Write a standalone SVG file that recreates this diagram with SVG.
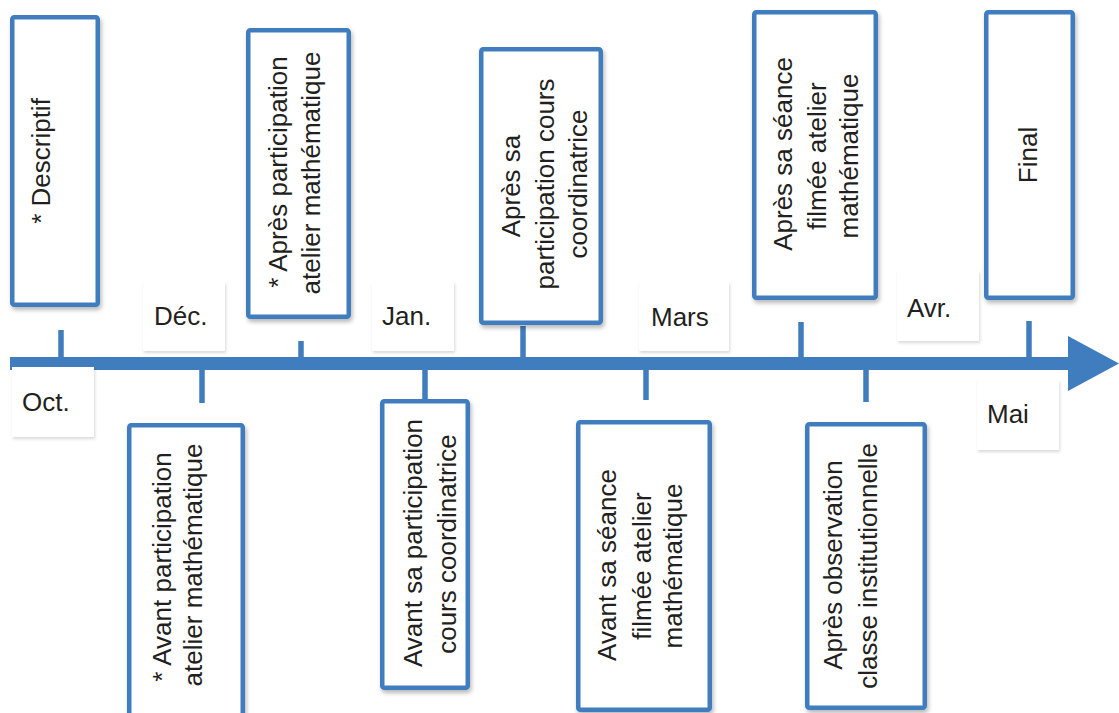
<svg xmlns="http://www.w3.org/2000/svg" width="1119" height="713" viewBox="0 0 1119 713">
<style>
.box{fill:#fff;stroke:#407dbe;stroke-width:4.5;filter:url(#sh)}
.lab{fill:#fff;filter:url(#sh2)}
.t{font-family:"Liberation Sans",Arial,sans-serif;font-size:26px;fill:#231f20}
.v{text-anchor:middle}
.tick{stroke:#407dbe;stroke-width:5.5;fill:none}
</style>
<defs>
<filter id="sh" x="-10%" y="-5%" width="125%" height="115%">
<feDropShadow dx="1.5" dy="3" stdDeviation="2" flood-color="#000" flood-opacity="0.28"/>
</filter>
<filter id="sh2" x="-10%" y="-10%" width="130%" height="130%">
<feDropShadow dx="1" dy="2" stdDeviation="1.5" flood-color="#000" flood-opacity="0.15"/>
</filter>
</defs>
<rect width="1119" height="713" fill="#fff"/>

<g id="connectors">
<rect x="10" y="357" width="1060" height="13" fill="#407dbe"/>
<polygon points="1068,336 1119,363.5 1068,391" fill="#407dbe"/>
<line class="tick" x1="61" y1="330" x2="61" y2="358"/>
<line class="tick" x1="202" y1="369" x2="202" y2="403"/>
<line class="tick" x1="301" y1="341" x2="301" y2="358"/>
<line class="tick" x1="425" y1="369" x2="425" y2="400"/>
<line class="tick" x1="523" y1="326" x2="523" y2="358"/>
<line class="tick" x1="646" y1="369" x2="646" y2="400"/>
<line class="tick" x1="801" y1="322" x2="801" y2="358"/>
<line class="tick" x1="866" y1="369" x2="866" y2="402"/>
<line class="tick" x1="1029" y1="321" x2="1029" y2="358"/>
</g>

<g id="oct"><rect class="lab" x="12" y="367" width="82" height="70"/><text class="t" x="22" y="411">Oct.</text></g>
<g id="dec"><rect class="lab" x="143" y="282" width="82" height="69"/><text class="t" x="154" y="325">Déc.</text></g>
<g id="jan"><rect class="lab" x="372" y="282" width="82" height="69"/><text class="t" x="382" y="325">Jan.</text></g>
<g id="mars"><rect class="lab" x="639" y="282" width="90" height="69"/><text class="t" x="651" y="326">Mars</text></g>
<g id="avr"><rect class="lab" x="897" y="271" width="82" height="70"/><text class="t" x="907" y="317">Avr.</text></g>
<g id="mai"><rect class="lab" x="977" y="380" width="82" height="70"/><text class="t" x="987" y="423">Mai</text></g>

<g id="n-descriptif">
<rect class="box" x="12.25" y="17.25" width="85.5" height="287.5" rx="2"/>
<text class="t v" transform="translate(50,161) rotate(-90)">* Descriptif</text>
</g>
<g id="n-apres-atelier">
<rect class="box" x="248.25" y="30.25" width="100.5" height="286.5" rx="2"/>
<text class="t v" transform="translate(287,172) rotate(-90)">* Après participation</text>
<text class="t v" transform="translate(320,173) rotate(-90)">atelier mathématique</text>
</g>
<g id="n-apres-cours">
<rect class="box" x="481.25" y="49.25" width="119.5" height="273.5" rx="2"/>
<text class="t v" transform="translate(520,186) rotate(-90)">Après sa</text>
<text class="t v" transform="translate(554,184) rotate(-90)">participation cours</text>
<text class="t v" transform="translate(587,184) rotate(-90)">coordinatrice</text>
</g>
<g id="n-apres-seance">
<rect class="box" x="754.25" y="12.25" width="121.5" height="285.5" rx="2"/>
<text class="t v" transform="translate(792,154) rotate(-90)">Après sa séance</text>
<text class="t v" transform="translate(826,156) rotate(-90)">filmée atelier</text>
<text class="t v" transform="translate(858,156) rotate(-90)">mathématique</text>
</g>
<g id="n-final">
<rect class="box" x="986.25" y="12.25" width="86.5" height="285.5" rx="2"/>
<text class="t v" transform="translate(1037,155) rotate(-90)">Final</text>
</g>
<g id="n-avant-atelier">
<rect class="box" x="129.25" y="425.25" width="113.5" height="295" rx="2"/>
<text class="t v" transform="translate(171,567) rotate(-90)">* Avant participation</text>
<text class="t v" transform="translate(202,565) rotate(-90)">atelier mathématique</text>
</g>
<g id="n-avant-cours">
<rect class="box" x="382.25" y="401.25" width="85.5" height="286.5" rx="2"/>
<text class="t v" transform="translate(422,543) rotate(-90)">Avant sa participation</text>
<text class="t v" transform="translate(456,544) rotate(-90)">cours coordinatrice</text>
</g>
<g id="n-avant-seance">
<rect class="box" x="578.25" y="422.25" width="131.5" height="287.5" rx="2"/>
<text class="t v" transform="translate(616,565) rotate(-90)">Avant sa séance</text>
<text class="t v" transform="translate(651,566) rotate(-90)">filmée atelier</text>
<text class="t v" transform="translate(682,566) rotate(-90)">mathématique</text>
</g>
<g id="n-apres-observation">
<rect class="box" x="807.25" y="424.25" width="117.5" height="283.5" rx="2"/>
<text class="t v" transform="translate(842,565) rotate(-90)">Après observation</text>
<text class="t v" transform="translate(877,566) rotate(-90)">classe institutionnelle</text>
</g>
</svg>
